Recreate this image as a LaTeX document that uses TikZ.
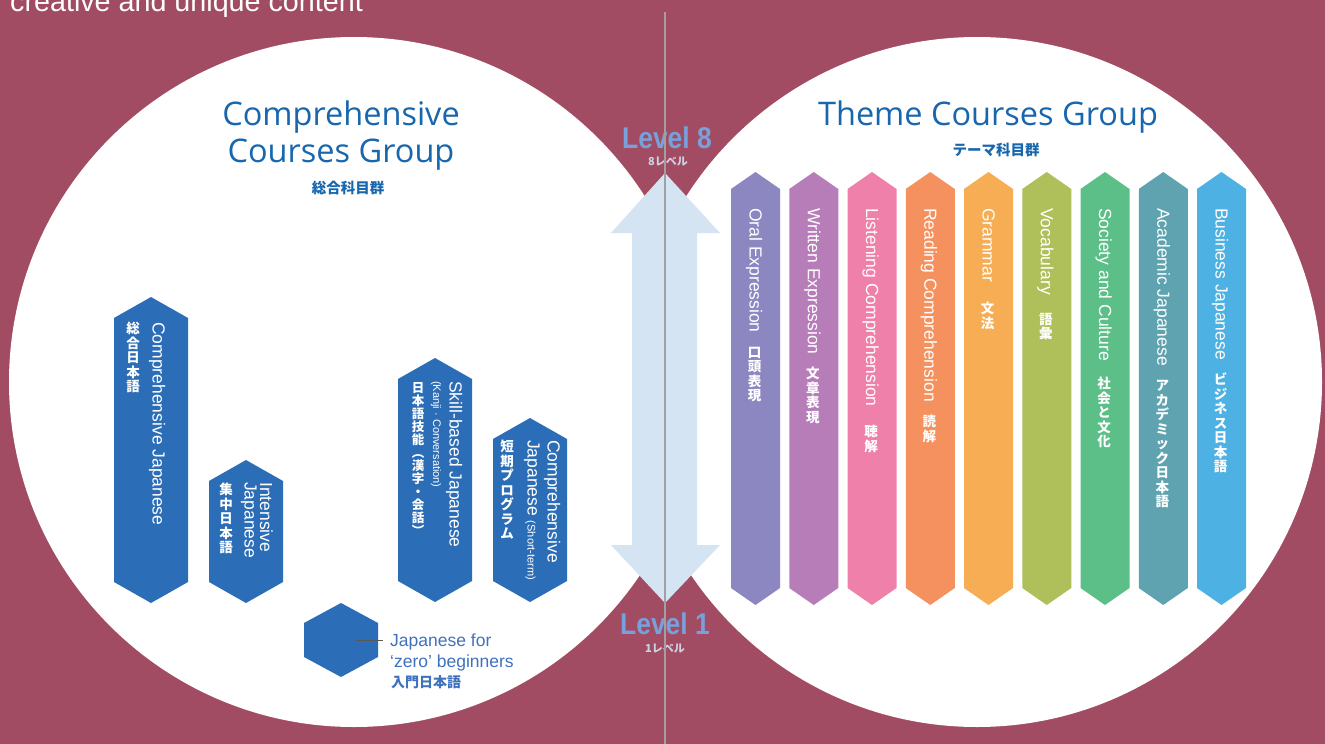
\documentclass[tikz,border=0pt]{standalone}
\usepackage{fontspec}
\setmainfont{Liberation Sans}
\newfontfamily\titlefont{Open Sans}
\newfontfamily\jp{Noto Sans CJK JP}
\newfontfamily\lvfont[FakeStretch=0.88]{Liberation Sans}
\usetikzlibrary{calc}

\definecolor{bg}{HTML}{A24C63}
\definecolor{hexblue}{HTML}{2C6DB7}
\definecolor{titleblue}{HTML}{1766AE}
\definecolor{zeroblue}{HTML}{3F72BE}
\definecolor{arrowblue}{HTML}{D4E4F3}
\definecolor{lvblue}{HTML}{78A0DA}
\definecolor{lvsub}{HTML}{CCD2E6}
\definecolor{midline}{HTML}{A0A0A0}
\definecolor{cOral}{HTML}{8C87C1}
\definecolor{cWritten}{HTML}{B77DB9}
\definecolor{cListen}{HTML}{EF80A9}
\definecolor{cRead}{HTML}{F5915E}
\definecolor{cGram}{HTML}{F6AD54}
\definecolor{cVocab}{HTML}{AFC05B}
\definecolor{cSoc}{HTML}{5CBF87}
\definecolor{cAcad}{HTML}{5FA3B1}
\definecolor{cBus}{HTML}{4EB1E3}

\tikzset{
  eng/.style={rotate=-90, anchor=base west, inner sep=0, text=white,
              font=\fontsize{17.5}{19}\selectfont},
  engs/.style={eng, font=\fontsize{11}{12}\selectfont},
  jpv/.style={anchor=north, inner sep=0, align=center, text=white,
              font=\jp\bfseries\fontsize{13.5}{14.5}\selectfont},
  title/.style={anchor=base, inner sep=0, text=titleblue,
              font=\titlefont\fontsize{32.5}{36}\selectfont},
  titlejp/.style={inner sep=0, text=titleblue, font=\jp\bfseries\fontsize{14.5}{16}\selectfont},
  lv/.style={anchor=base, inner sep=0, text=lvblue,
              font=\lvfont\bfseries\fontsize{30}{31}\selectfont},
  lvj/.style={inner sep=0, text=lvsub, font=\jp\bfseries\fontsize{11}{12}\selectfont},
  zt/.style={anchor=base west, inner sep=0, text=zeroblue,
              font=\fontsize{17.5}{19}\selectfont},
  conn/.style={draw=black!65, line width=1pt},
}

% cx, ytop, ybot, half width, tip height, colour
\newcommand{\hexbar}[6]{%
  \fill[#6] (#1,#2) -- ++(#4,#5) -- (#1+#4,#3-#5) -- (#1,#3)
     -- (#1-#4,#3-#5) -- (#1-#4,#2+#5) -- cycle;}

% index, colour, english, japanese (stacked), japanese start
\newcommand{\themebar}[5]{%
  \pgfmathsetmacro\cx{755.5+58.25*(#1-1)}%
  \hexbar{\cx}{172}{605}{24.5}{17}{#2}%
  \node[eng] (te#1) at (\cx-6,208) {#3};%
  \node[jpv] (tj#1) at (\cx-1,#5) {#4};%
}

\begin{document}
\begin{tikzpicture}[x=1pt,y=-1pt]
\fill[bg] (0,0) rectangle (1325,744);
\useasboundingbox (0,0) rectangle (1325,744);

\node[anchor=base west, inner sep=0, text=white,
      font=\fontsize{28.7}{30}\selectfont] (toptext) at (10,12) {creative and unique content};

% circles
\fill[white] (354,382) circle[radius=345pt];
\fill[white] (977,382) circle[radius=345pt];

% double arrow
\fill[arrowblue] (665,173) -- (720,233) -- (697,233) -- (697,545) -- (720,545)
  -- (665,603) -- (611,545) -- (632,545) -- (632,233) -- (611,233) -- cycle;

% titles
\node[title] (ct1) at (341,125) {Comprehensive};
\node[title] (ct2) at (341,162) {Courses Group};
\node[titlejp] (cj) at (348,188) {総合科目群};
\node[title] (tt) at (988,125) {Theme Courses Group};
\node[titlejp] (tjt) at (996,150) {テーマ科目群};

% left group hexagons
\hexbar{151}{297}{603}{37}{21}{hexblue}
\node[eng] (h1e) at (152.5,322) {Comprehensive Japanese};
\node[jpv] (h1j) at (133,322) {総\\合\\日\\本\\語};

\hexbar{246}{460}{603}{37}{21}{hexblue}
\node[eng] (h2e) at (260,482) {Intensive};
\node[eng] (h2f) at (244.5,482) {Japanese};
\node[jpv] (h2j) at (226,483) {集\\中\\日\\本\\語};

\hexbar{435}{358}{602}{37}{21}{hexblue}
\node[eng] (h3e) at (449.5,381) {Skill-based Japanese};
\node[engs] (h3s) at (433,381) {(Kanji · Conversation)};
\node[jpv, font=\jp\bfseries\fontsize{12.5}{13}\selectfont] (h3j) at (418,382) {日\\本\\語\\技\\能\\︵\\漢\\字\\・\\会\\話\\︶};

\hexbar{530}{418}{602}{37}{21}{hexblue}
\node[eng] (h4e) at (547.5,440) {Comprehensive};
\node[eng] (h4f) at (527.5,440) {Japanese {\fontsize{11}{12}\selectfont (Short-term)}};
\node[jpv] (h4j) at (507,440) {短\\期\\プ\\ロ\\グ\\ラ\\ム};

% zero beginners
\hexbar{341}{603}{677}{37}{20}{hexblue}
\node[zt] (zt1) at (390,646) {Japanese for};
\node[zt] (zt2) at (390,667) {‘zero’ beginners};
\node[zt, font=\jp\bfseries\fontsize{14}{15}\selectfont] (zt3) at (391,687) {入門日本語};
\coordinate (zstart) at (355,640);
\coordinate (zend) at ($(zt1.base west)+(-7,-6)$);
\draw[conn] (zstart) -- (zend);

% theme bars
\themebar{1}{cOral}{Oral Expression}{口\\頭\\表\\現}{347}
\themebar{2}{cWritten}{Written Expression}{文\\章\\表\\現}{367}
\themebar{3}{cListen}{Listening Comprehension}{聴\\解}{425}
\themebar{4}{cRead}{Reading Comprehension}{読\\解}{415}
\themebar{5}{cGram}{Grammar}{文\\法}{302}
\themebar{6}{cVocab}{Vocabulary}{語\\彙}{313}
\themebar{7}{cSoc}{Society and Culture}{社\\会\\と\\文\\化}{377}
\themebar{8}{cAcad}{Academic Japanese}{ア\\カ\\デ\\ミ\\ッ\\ク\\日\\本\\語}{380}
\themebar{9}{cBus}{Business Japanese}{ビ\\ジ\\ネ\\ス\\日\\本\\語}{373}

% levels
\node[lv] (l8) at (667,148) {Level 8};
\node[lvj] (l8j) at (668,162) {8レベル};
\node[lv] (l1) at (665,634) {Level 1};
\node[lvj] (l1j) at (665,649) {1レベル};

% centre line
\coordinate (ltop) at (665,12);
\coordinate (lbot) at (665,744);
\draw[midline, line width=1.6pt] (ltop) -- (lbot);
\end{tikzpicture}
\end{document}
